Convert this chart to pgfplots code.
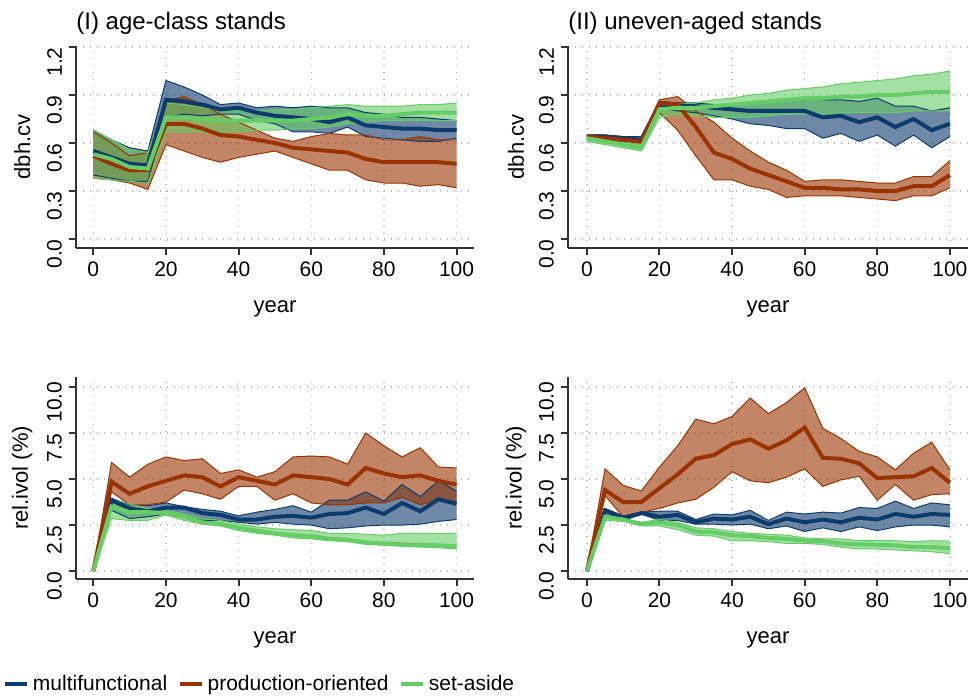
\documentclass[border=0pt]{standalone}
\usepackage{pgfplots}
\pgfplotsset{compat=1.18}
\usepackage{pgfplotstable}
\usepgfplotslibrary{fillbetween}
\usepackage{fontspec}
\setmainfont{Liberation Sans}

\definecolor{cM}{HTML}{0C3B6C}
\definecolor{cP}{HTML}{993300}
\definecolor{cS}{HTML}{66CC66}

\pgfplotstableread{
x   mu   mm   ml   pu   pm   pl   su   sm   sl
0   0.68 0.55 0.40 0.67 0.52 0.38 0.68 0.53 0.38
5   0.62 0.51 0.38 0.60 0.47 0.37 0.62 0.50 0.37
10  0.57 0.47 0.36 0.52 0.43 0.35 0.56 0.45 0.36
15  0.55 0.46 0.36 0.54 0.43 0.31 0.54 0.44 0.35
20  0.99 0.87 0.76 0.86 0.72 0.59 0.85 0.76 0.67
25  0.95 0.86 0.78 0.89 0.72 0.55 0.84 0.76 0.67
30  0.90 0.84 0.77 0.84 0.69 0.51 0.82 0.75 0.67
35  0.84 0.81 0.78 0.78 0.65 0.48 0.81 0.74 0.67
40  0.85 0.82 0.78 0.73 0.64 0.51 0.80 0.74 0.67
45  0.82 0.79 0.74 0.68 0.62 0.53 0.80 0.74 0.68
50  0.83 0.77 0.72 0.63 0.60 0.55 0.81 0.74 0.68
55  0.82 0.76 0.67 0.61 0.57 0.51 0.81 0.74 0.69
60  0.83 0.75 0.67 0.64 0.56 0.47 0.82 0.75 0.69
65  0.82 0.73 0.66 0.66 0.55 0.43 0.83 0.76 0.70
70  0.82 0.76 0.70 0.65 0.54 0.43 0.84 0.78 0.72
75  0.79 0.71 0.64 0.65 0.50 0.37 0.83 0.77 0.73
80  0.78 0.70 0.63 0.62 0.48 0.35 0.83 0.77 0.74
85  0.76 0.69 0.62 0.62 0.48 0.35 0.83 0.78 0.74
90  0.76 0.69 0.61 0.64 0.48 0.33 0.84 0.79 0.74
95  0.75 0.68 0.61 0.62 0.48 0.34 0.84 0.79 0.74
100 0.74 0.68 0.63 0.62 0.47 0.32 0.85 0.79 0.74
}\tabTL

\pgfplotstableread{
x   mu   mm   ml   pu   pm   pl   su   sm   sl
0   0.65 0.64 0.62 0.65 0.64 0.63 0.65 0.63 0.61
5   0.65 0.64 0.62 0.65 0.63 0.62 0.63 0.61 0.59
10  0.64 0.63 0.61 0.64 0.62 0.61 0.61 0.59 0.57
15  0.64 0.62 0.60 0.62 0.61 0.59 0.59 0.57 0.55
20  0.86 0.84 0.82 0.87 0.85 0.79 0.83 0.81 0.76
25  0.85 0.83 0.80 0.89 0.84 0.68 0.84 0.82 0.78
30  0.85 0.83 0.79 0.80 0.70 0.52 0.85 0.82 0.77
35  0.84 0.82 0.77 0.73 0.54 0.37 0.87 0.83 0.76
40  0.84 0.81 0.75 0.63 0.50 0.37 0.88 0.84 0.76
45  0.85 0.80 0.72 0.55 0.44 0.33 0.90 0.85 0.76
50  0.86 0.80 0.71 0.48 0.40 0.31 0.91 0.86 0.77
55  0.87 0.80 0.69 0.43 0.36 0.26 0.93 0.87 0.78
60  0.88 0.80 0.69 0.36 0.32 0.27 0.94 0.88 0.78
65  0.87 0.76 0.63 0.37 0.32 0.27 0.95 0.88 0.78
70  0.87 0.77 0.66 0.37 0.31 0.27 0.97 0.89 0.79
75  0.86 0.73 0.61 0.36 0.31 0.26 0.98 0.89 0.79
80  0.88 0.76 0.65 0.35 0.30 0.25 0.99 0.90 0.79
85  0.83 0.70 0.58 0.35 0.30 0.24 1.00 0.90 0.79
90  0.83 0.75 0.65 0.39 0.33 0.27 1.02 0.91 0.80
95  0.80 0.68 0.57 0.39 0.33 0.27 1.03 0.92 0.80
100 0.82 0.72 0.64 0.49 0.40 0.32 1.05 0.92 0.80
}\tabTR

\pgfplotstableread{
x   mu   mm   ml   pu   pm   pl   su   sm   sl
0   0    0    0    0    0    0    0    0    0
5   3.95 3.85 3.30 5.90 4.85 4.30 3.90 3.50 2.85
10  3.60 3.40 2.85 5.10 4.20 3.60 3.65 3.20 2.75
15  3.55 3.25 2.95 5.80 4.60 3.60 3.40 3.20 2.75
20  3.70 3.45 3.10 6.20 4.90 3.75 3.30 3.15 3.05
25  3.50 3.45 3.00 6.00 5.20 4.40 3.10 2.95 2.75
30  3.35 3.15 2.75 6.10 5.10 4.20 2.85 2.65 2.55
35  3.25 3.05 2.75 5.30 4.60 3.90 2.75 2.55 2.45
40  3.00 2.80 2.65 5.50 5.10 4.60 2.55 2.35 2.20
45  3.20 2.80 2.55 5.10 4.90 4.60 2.40 2.20 2.05
50  3.35 2.95 2.65 5.40 4.70 3.85 2.30 2.05 1.95
55  3.55 3.00 2.55 6.20 5.20 4.20 2.25 1.95 1.80
60  3.20 2.90 2.50 6.25 5.10 3.70 2.20 1.90 1.75
65  3.85 3.10 2.30 6.20 5.00 3.60 2.05 1.75 1.65
70  3.85 3.15 2.35 5.80 4.70 3.60 2.05 1.70 1.60
75  4.30 3.45 2.45 7.50 5.60 3.70 2.00 1.55 1.45
80  3.80 3.10 2.50 6.80 5.30 3.70 1.95 1.50 1.40
85  4.70 3.70 2.50 6.20 5.10 4.00 2.05 1.45 1.35
90  4.05 3.25 2.55 6.70 5.20 3.60 2.05 1.43 1.30
95  4.90 3.90 2.70 5.65 4.90 3.90 2.05 1.40 1.27
100 4.35 3.65 2.80 5.60 4.70 3.75 2.05 1.35 1.20
}\tabBL

\pgfplotstableread{
x   mu   mm   ml   pu   pm   pl   su   sm   sl
0   0    0    0    0    0    0    0    0    0
5   3.40 3.30 2.95 5.55 4.40 4.10 3.00 2.95 2.75
10  3.00 2.85 2.75 4.65 3.75 2.95 2.85 2.80 2.70
15  3.20 3.15 3.10 4.35 3.75 3.20 2.65 2.55 2.45
20  3.25 2.95 2.75 5.65 4.50 3.40 2.80 2.65 2.45
25  3.25 3.05 2.75 6.80 5.25 3.70 2.65 2.50 2.25
30  2.80 2.65 2.55 8.25 6.10 3.90 2.35 2.15 1.95
35  3.10 2.85 2.55 8.00 6.30 4.55 2.30 2.10 1.90
40  3.05 2.80 2.50 8.40 6.90 5.40 2.15 1.95 1.65
45  3.30 2.95 2.55 9.40 7.15 4.90 2.05 1.90 1.65
50  2.75 2.55 2.30 8.55 6.65 4.80 2.00 1.80 1.60
55  3.20 2.85 2.45 9.15 7.10 5.10 1.95 1.75 1.50
60  3.10 2.65 2.15 9.95 7.80 5.55 1.80 1.65 1.50
65  3.20 2.80 2.35 7.75 6.15 4.60 1.75 1.63 1.45
70  3.15 2.65 2.15 7.20 6.10 4.95 1.75 1.50 1.30
75  3.45 2.90 2.40 6.50 5.85 5.15 1.65 1.45 1.20
80  3.40 2.80 2.20 6.20 5.05 3.85 1.65 1.43 1.20
85  3.80 3.10 2.40 5.50 5.10 4.70 1.65 1.40 1.15
90  3.40 2.95 2.50 6.40 5.15 3.85 1.60 1.30 1.10
95  3.70 3.10 2.50 7.00 5.60 4.15 1.65 1.30 1.05
100 3.60 3.05 2.40 5.50 4.80 4.20 1.63 1.25 0.95
}\tabBR

\pgfplotsset{
  panel/.style={
    scale only axis, width=199pt, height=101pt,
    axis x line*=bottom, axis y line*=left,
    axis line style={line width=1pt, color=black!80, -},
    xtick={0,20,40,60,80,100},
    tick align=outside, major tick length=3.5pt,
    tick style={line width=1pt, color=black!80},
    xmajorgrids, ymajorgrids,
    grid style={line width=0.7pt, color=gray!55, dash pattern=on 0.7pt off 2.8pt},
    ticklabel style={font=\fontsize{10.5}{12}\selectfont},
    /pgf/number format/assume math mode=true,
    yticklabel style={/pgf/number format/.cd, fixed, fixed zerofill, precision=1, /tikz/.cd, yshift=-7.5pt, rotate=90, anchor=south},
    xlabel={year},
    label style={font=\fontsize{11}{13}\selectfont},
    xlabel style={at={(axis description cs:0.5,-0.32)}, anchor=base},
    title style={at={(axis description cs:0,1)}, anchor=base west, inner sep=0pt, yshift=2pt, font=\fontsize{12}{14}\selectfont},
  },
  toprow/.style={ymin=-0.056, ymax=1.206, ytick={0,0.3,0.6,0.9,1.2}, ylabel={dbh.cv}},
  botrow/.style={ymin=-0.43, ymax=10.54, ytick={0,2.5,5,7.5,10}, ylabel={rel.ivol (\%)}},
  band/.style={line width=0.5pt, forget plot},
  meanline/.style={line width=2pt, forget plot},
}

\newcommand{\drawpanel}[2]{%
  \addplot[band, draw=cM, name path=#2mu] table[x=x,y=mu]{#1};
  \addplot[band, draw=cM, name path=#2ml] table[x=x,y=ml]{#1};
  \addplot[fill=cM, fill opacity=0.6, draw=none, forget plot] fill between[of=#2mu and #2ml];
  \addplot[band, draw=cP, name path=#2pu] table[x=x,y=pu]{#1};
  \addplot[band, draw=cP, name path=#2pl] table[x=x,y=pl]{#1};
  \addplot[fill=cP, fill opacity=0.6, draw=none, forget plot] fill between[of=#2pu and #2pl];
  \addplot[band, draw=cS, name path=#2su] table[x=x,y=su]{#1};
  \addplot[band, draw=cS, name path=#2sl] table[x=x,y=sl]{#1};
  \addplot[fill=cS, fill opacity=0.6, draw=none, forget plot] fill between[of=#2su and #2sl];
  \addplot[meanline, cM] table[x=x,y=mm]{#1};
  \addplot[meanline, cP] table[x=x,y=pm]{#1};
  \addplot[meanline, cS] table[x=x,y=sm]{#1};
}

\begin{document}
\begin{tikzpicture}

\begin{axis}[panel, toprow, at={(38pt,224.5pt)}, anchor=south west,
  xmin=-4.77, xmax=104.8,
  ylabel style={at={(axis description cs:-0.135,0.5)}, anchor=center},
  title={(I) age-class stands}]
\drawpanel{\tabTL}{a}
\end{axis}

\begin{axis}[panel, toprow, at={(284pt,224.5pt)}, anchor=south west, width=200pt,
  xmin=-5.2, xmax=105,
  ylabel style={at={(axis description cs:-0.13,0.5)}, anchor=center},
  title={(II) uneven-aged stands}]
\drawpanel{\tabTR}{b}
\end{axis}

\begin{axis}[panel, botrow, at={(38pt,59pt)}, anchor=south west,
  xmin=-4.77, xmax=104.8,
  ylabel style={at={(axis description cs:-0.135,0.5)}, anchor=center},
  legend columns=3,
  legend style={at={(axis description cs:-0.183,-0.52)}, anchor=west, draw=none, fill=none,
    font=\fontsize{10.5}{12}\selectfont, inner sep=0pt,
    /tikz/every even column/.append style={column sep=3.5pt}},
  legend image code/.code={\draw[#1, line width=1.7pt] (0pt,0pt) -- (11pt,0pt);}]
\drawpanel{\tabBL}{c}
\addlegendimage{cM}\addlegendentry{multifunctional}
\addlegendimage{cP}\addlegendentry{production-oriented}
\addlegendimage{cS}\addlegendentry{set-aside}
\end{axis}

\begin{axis}[panel, botrow, at={(284pt,59pt)}, anchor=south west, width=200pt,
  xmin=-5.2, xmax=105,
  ylabel style={at={(axis description cs:-0.13,0.5)}, anchor=center}]
\drawpanel{\tabBR}{d}
\end{axis}

\pgfresetboundingbox
\path[use as bounding box] (0,0) rectangle (489pt,348.5pt);
\end{tikzpicture}
\end{document}
